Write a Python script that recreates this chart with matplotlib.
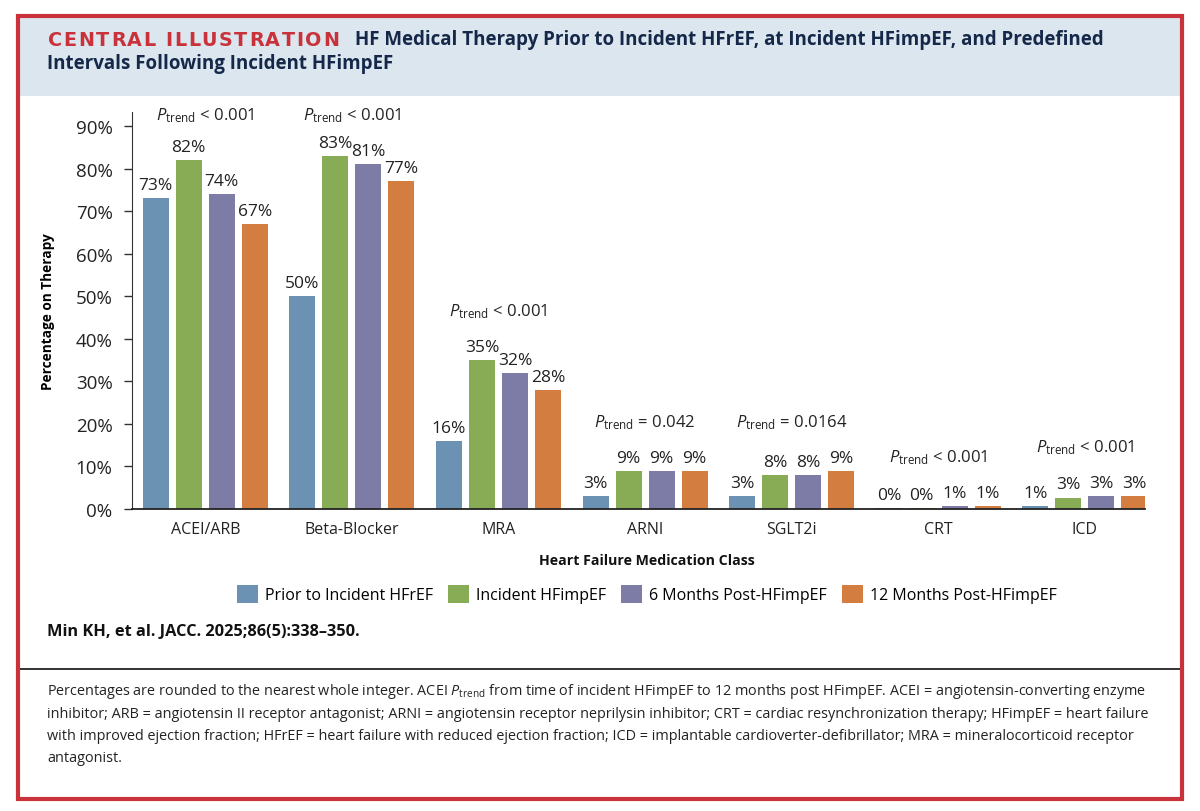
import matplotlib
matplotlib.use("Agg")
import matplotlib.pyplot as plt
from matplotlib.patches import Rectangle
from matplotlib.lines import Line2D
import numpy as np

# ---------------- data ----------------
categories = ["ACEI/ARB", "Beta-Blocker", "MRA", "ARNI", "SGLT2i", "CRT", "ICD"]
series_names = ["Prior to Incident HFrEF", "Incident HFimpEF",
                "6 Months Post-HFimpEF", "12 Months Post-HFimpEF"]
prior = [73, 50, 16, 3, 3, 0.3, 0.6]
incident = [82, 83, 35, 9, 8, 0.3, 2.7]
six_months = [74, 81, 32, 9, 8, 0.7, 3]
twelve_months = [67, 77, 28, 9, 9, 0.7, 3]
value_labels = [
    ["73%", "50%", "16%", "3%", "3%", "0%", "1%"],
    ["82%", "83%", "35%", "9%", "8%", "0%", "3%"],
    ["74%", "81%", "32%", "9%", "8%", "1%", "3%"],
    ["67%", "77%", "28%", "9%", "9%", "1%", "3%"],
]
p_ops = ["<", "<", "<", "=", "=", "<", "<"]
p_vals = ["0.001", "0.001", "0.001", "0.042", "0.0164", "0.001", "0.001"]
y_ticks = [0, 10, 20, 30, 40, 50, 60, 70, 80, 90]
y_tick_labels = ["0%", "10%", "20%", "30%", "40%", "50%", "60%", "70%", "80%", "90%"]

colors = ["#6b91b3", "#88ab55", "#7c7ca6", "#d47d40"]
RED = "#c9323b"
NAVY = "#15284a"

FONT = "Open Sans"
plt.rcParams["font.family"] = [FONT, "DejaVu Sans"]
plt.rcParams["mathtext.fontset"] = "custom"
plt.rcParams["mathtext.rm"] = FONT
plt.rcParams["mathtext.it"] = FONT + ":italic"
plt.rcParams["mathtext.bf"] = FONT + ":bold"

W, H = 1200, 812
fig = plt.figure(figsize=(W / 100, H / 100), dpi=100)
fig.patch.set_facecolor("white")

def fx(px):
    return px / W

def fy(py):
    return 1 - py / H

# ---------------- frame and header ----------------
fig.patches.append(Rectangle((fx(18), fy(97)), fx(1182 - 18), fy(18) - fy(97),
                             transform=fig.transFigure, facecolor="#dce6ee",
                             edgecolor="none", zorder=0))
fig.patches.append(Rectangle((fx(18), fy(800)), fx(1182 - 18), fy(17) - fy(800),
                             transform=fig.transFigure, facecolor="none",
                             edgecolor=RED, linewidth=3.0, zorder=5))
fig.lines.append(Line2D([fx(18), fx(1182)], [fy(670), fy(670)],
                        transform=fig.transFigure, color="#222222", linewidth=1.3))

# letter-spaced red heading
fig.canvas.draw()
renderer = fig.canvas.get_renderer()
xcur = 48.0
for ch in "CENTRAL ILLUSTRATION":
    if ch == " ":
        xcur += 8
        continue
    t = fig.text(fx(xcur), fy(40), ch, color=RED, fontsize=13.8, fontweight="bold",
                 va="center", ha="left", family=["DejaVu Sans"])
    bb = t.get_window_extent(renderer=renderer)
    xcur += bb.width + 1.6
fig.text(fx(355), fy(40),
         "HF Medical Therapy Prior to Incident HFrEF, at Incident HFimpEF, and Predefined",
         color=NAVY, fontsize=13.5, fontweight="bold", va="center", ha="left")
fig.text(fx(47), fy(63.5), "Intervals Following Incident HFimpEF",
         color=NAVY, fontsize=13.5, fontweight="bold", va="center", ha="left")

# ---------------- axes ----------------
ax = fig.add_axes([fx(132), fy(510), fx(1145 - 132), fy(113) - fy(510)])
x = np.arange(len(categories))
width = 0.178
step = 0.225
all_series = [prior, incident, six_months, twelve_months]
for i, (vals, name, col) in enumerate(zip(all_series, series_names, colors)):
    pos = x + (i - 1.5) * step
    ax.bar(pos, vals, width=width, color=col, label=name, zorder=2)
    for p, v, lab in zip(pos, vals, value_labels[i]):
        ax.text(p, v + 1.2, lab, ha="center", va="bottom", fontsize=12.5, color="#222222")

maxes = np.max(np.array(all_series), axis=0)
for xi, m, op, pv in zip(x, maxes, p_ops, p_vals):
    ytxt = min(m + 11.6, 92.6)
    ax.text(xi, ytxt, r"$P_{\mathrm{trend}}$" + f" {op} {pv}", ha="center", va="center",
            fontsize=12, color="#222222")

ax.set_xlim(-0.5, 6.41)
ax.set_ylim(0, 93.3)
ax.set_yticks(y_ticks)
ax.set_yticklabels(y_tick_labels, fontsize=13.5, color="#222222")
ax.set_xticks(x)
ax.set_xticklabels(categories, fontsize=11.5, color="#222222")
ax.tick_params(axis="x", length=0, pad=9)
ax.tick_params(axis="y", length=6, width=1, color="#333333", pad=8)
for s in ["top", "right"]:
    ax.spines[s].set_visible(False)
ax.spines["left"].set_color("#333333")
ax.spines["bottom"].set_color("#222222")
ax.spines["bottom"].set_linewidth(1.3)
ax.set_ylabel("Percentage on Therapy", fontsize=9.8, fontweight="bold")
ax.yaxis.set_label_coords(-0.076, 0.5)

fig.text(fx(647), fy(561), "Heart Failure Medication Class", fontsize=10.2,
         fontweight="bold", ha="center", va="center", color="#111111")

handles, labels = ax.get_legend_handles_labels()
leg = fig.legend(handles, labels, loc="center", bbox_to_anchor=(fx(647), fy(595)),
                 ncol=4, frameon=False, fontsize=11.5, handlelength=1.3, handleheight=1.4,
                 handletextpad=0.45, columnspacing=0.95)

fig.text(fx(47), fy(632), "Min KH, et al. JACC. 2025;86(5):338\u2013350.", fontsize=11.8,
         fontweight="bold", ha="left", va="center", color="#111111")

footer_lines = [
    "Percentages are rounded to the nearest whole integer. ACEI $P_{\\mathrm{trend}}$ from time of incident HFimpEF to 12 months post HFimpEF. ACEI = angiotensin-converting enzyme",
    "inhibitor; ARB = angiotensin II receptor antagonist; ARNI = angiotensin receptor neprilysin inhibitor; CRT = cardiac resynchronization therapy; HFimpEF = heart failure",
    "with improved ejection fraction; HFrEF = heart failure with reduced ejection fraction; ICD = implantable cardioverter-defibrillator; MRA = mineralocorticoid receptor",
    "antagonist.",
]
for k, line in enumerate(footer_lines):
    fig.text(fx(47), fy(692 + k * 22.3), line, fontsize=10.35, ha="left", va="center",
             color="#222222")

fig.savefig("out.png", dpi=100, facecolor="white")
